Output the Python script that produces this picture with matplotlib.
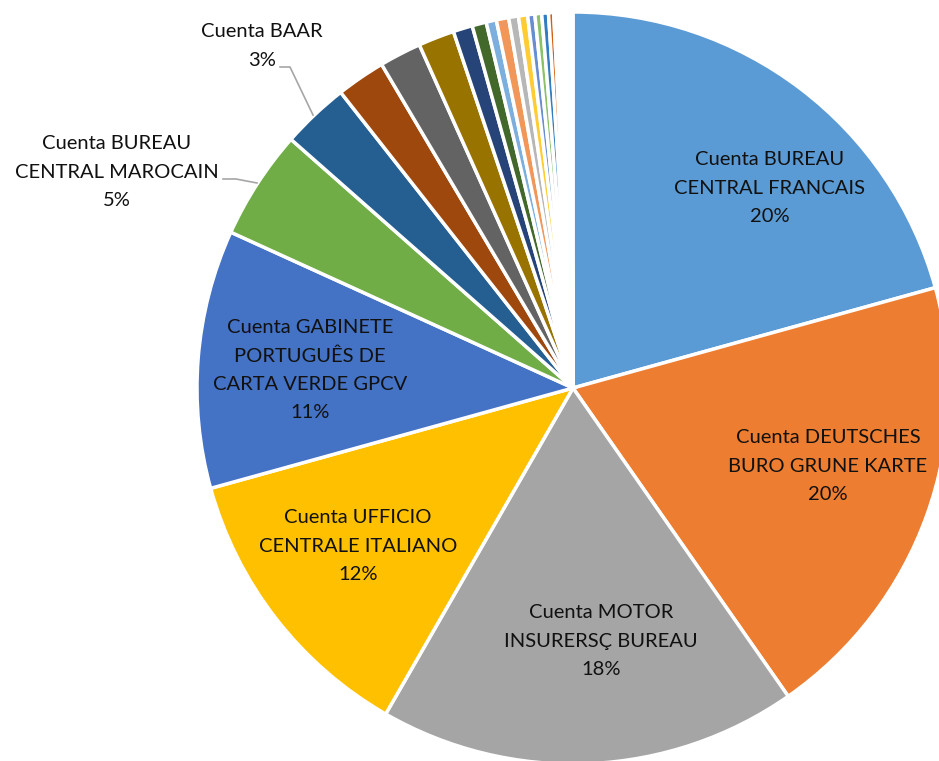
import matplotlib
matplotlib.use('Agg')
import matplotlib.pyplot as plt

plt.rcParams['font.family'] = ['Lato', 'DejaVu Sans']

# porcentajes por cuenta (sentido horario desde arriba)
labels = ['Cuenta BUREAU\nCENTRAL FRANCAIS', 'Cuenta DEUTSCHES\nBURO GRUNE KARTE',
          'Cuenta MOTOR\nINSURERSÇ BUREAU', 'Cuenta UFFICIO\nCENTRALE ITALIANO',
          'Cuenta GABINETE\nPORTUGUÊS DE\nCARTA VERDE GPCV',
          'Cuenta BUREAU\nCENTRAL MAROCAIN', 'Cuenta BAAR']
values = [20.7, 19.6, 18.0, 12.4, 11.1, 4.7, 2.9,
          2.1, 1.8, 1.55, 0.83, 0.61, 0.44, 0.53, 0.42, 0.39, 0.31, 0.29,
          0.29, 0.22,
          0.09, 0.09, 0.08, 0.08, 0.08, 0.08, 0.08, 0.08, 0.08, 0.08]
shown = ['20%', '20%', '18%', '12%', '11%', '5%', '3%']

colors = ['#5B9BD5', '#ED7D31', '#A5A5A5', '#FFC000', '#4472C4', '#70AD47',
          '#255E91', '#9E480E', '#636363', '#997300', '#264478', '#43682B',
          '#7CAFDD', '#F1975A', '#B7B7B7', '#FFCD33', '#698ED0', '#8CC168',
          '#327DC2', '#D26012', '#848484', '#CC9A00', '#3A5FA5', '#5E9438',
          '#9DC3E6', '#F4B183', '#C9C9C9', '#FFD966', '#8FAADC', '#A9D18E']

W, H = 939, 761
fig = plt.figure(figsize=(W / 100, H / 100), dpi=100)
ax = fig.add_axes([0, 0, 1, 1])
ax.pie(values, colors=colors, startangle=90, counterclock=False,
       center=(573, H - 388), radius=376,
       wedgeprops=dict(edgecolor='white', linewidth=2.5))
ax.set_xlim(0, W)
ax.set_ylim(0, H)
ax.set_aspect('equal')
ax.axis('off')

# etiquetas (posiciones en píxeles)
pos = [(770, 188), (828, 466), (601, 641), (358, 546), (310, 370),
       (117, 172), (262, 46)]
for (x, y), lab, pct in zip(pos, labels, shown):
    ax.text(x, H - y, lab + '\n' + pct, ha='center', va='center',
            fontsize=14.5, color='#111111', linespacing=1.8)

# líneas guía
ax.plot([223, 236, 257], [H - 179, H - 179, H - 183], color='#a6a6a6', lw=1.2)
ax.plot([280, 290, 313], [H - 67, H - 67, H - 115], color='#a6a6a6', lw=1.2)

fig.savefig('out.png', dpi=100, facecolor='white')
